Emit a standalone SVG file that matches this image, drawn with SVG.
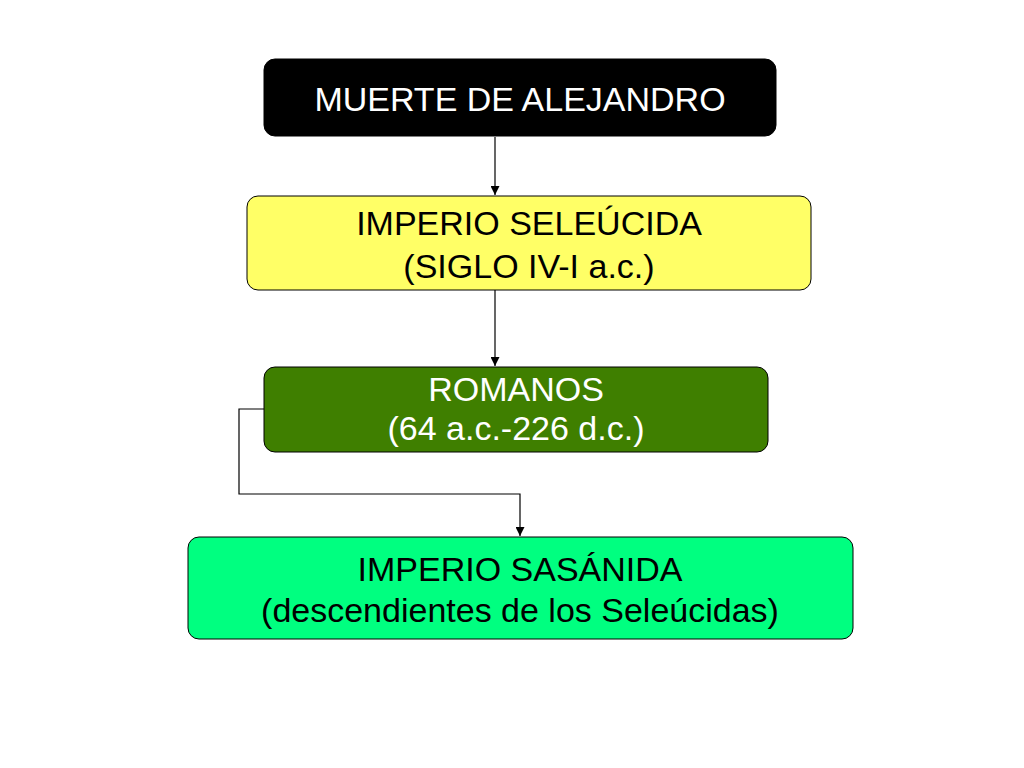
<svg xmlns="http://www.w3.org/2000/svg" width="1024" height="768" viewBox="0 0 1024 768">
<defs>
<marker id="arr" viewBox="0 0 10 10" refX="10" refY="5" markerWidth="9" markerHeight="9" markerUnits="userSpaceOnUse" orient="auto">
<path d="M0,0 L10,5 L0,10 z" fill="#000"/>
</marker>
</defs>
<style>
.box{stroke:#000;stroke-width:1}
.t{font-family:"Liberation Sans",Arial,sans-serif;font-size:34px;text-anchor:middle}
.c{fill:none;stroke:#000;stroke-width:1.2}
</style>
<rect width="1024" height="768" fill="#fff"/>
<g id="connectors">
<path class="c" d="M495,137 V195" marker-end="url(#arr)"/>
<path class="c" d="M495,290 V366" marker-end="url(#arr)"/>
<path class="c" d="M264,409 H239 V494 H520 V536" marker-end="url(#arr)"/>
</g>
<g id="muerte">
<rect class="box" x="264" y="59" width="512" height="77" rx="11" fill="#000"/>
<text class="t" x="520" y="111" fill="#fff">MUERTE DE ALEJANDRO</text>
</g>
<g id="seleucida">
<rect class="box" x="247" y="196" width="564" height="94" rx="11" fill="#FFFF66"/>
<text class="t" x="529" y="235" fill="#000">IMPERIO SELEÚCIDA</text>
<text class="t" x="529" y="278" fill="#000">(SIGLO IV-I a.c.)</text>
</g>
<g id="romanos">
<rect class="box" x="264" y="367" width="504" height="85" rx="11" fill="#3F7F00"/>
<text class="t" x="516" y="401" fill="#fff">ROMANOS</text>
<text class="t" x="516" y="440" fill="#fff">(64 a.c.-226 d.c.)</text>
</g>
<g id="sasanida">
<rect class="box" x="188" y="537" width="665" height="102" rx="11" fill="#00FF80"/>
<text class="t" x="520" y="581" fill="#000">IMPERIO SASÁNIDA</text>
<text class="t" x="520" y="622" fill="#000">(descendientes de los Seleúcidas)</text>
</g>
</svg>
